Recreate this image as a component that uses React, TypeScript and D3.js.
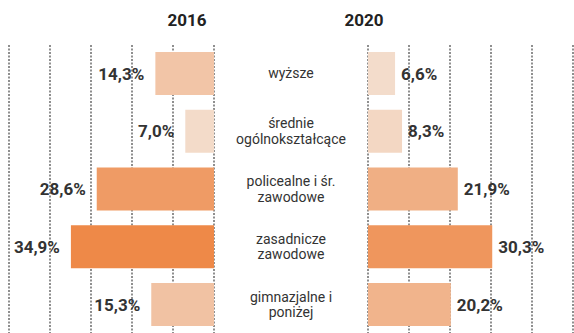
import React from "react";
import * as d3 from "d3";

const categories = [
  ["wyższe"],
  ["średnie", "ogólnokształcące"],
  ["policealne i śr.", "zawodowe"],
  ["zasadnicze", "zawodowe"],
  ["gimnazjalne i", "poniżej"],
];
const years = ["2016", "2020"];
const values2016 = [14.3, 7.0, 28.6, 34.9, 15.3];
const values2020 = [6.6, 8.3, 21.9, 30.3, 20.2];
const gridTicks = [0, 10, 20, 30, 40, 50];

const fmt = (v: number) => v.toFixed(1).replace(".", ",") + "%";

export default function App() {
  const W = 574;
  const H = 333;
  const keys = categories.map((_, i) => String(i));
  const y = d3.scaleBand<string>().domain(keys).range([52, 326]).paddingInner(0.2554).paddingOuter(0);
  const xL = d3.scaleLinear().domain([0, 50]).range([214, 9]);
  const xR = d3.scaleLinear().domain([0, 50]).range([368, 573]);
  const color = d3
    .scaleLinear<string>()
    .domain([6.6, 34.9])
    .range(["#f3dccb", "#ee8948"])
    .interpolate(d3.interpolateRgb);
  const font = "Roboto, 'Noto Sans', sans-serif";
  const bw = y.bandwidth();

  return (
    <svg width={W} height={H} style={{ position: "absolute", left: 0, top: 0, background: "#fff" }}>
      <g>
        {gridTicks.map((t) => (
          <line key={"l" + t} x1={xL(t)} x2={xL(t)} y1={45} y2={H} stroke="#8f8f8f" strokeWidth={2} strokeDasharray="2,1.5" />
        ))}
        {gridTicks.map((t) => (
          <line key={"r" + t} x1={xR(t)} x2={xR(t)} y1={45} y2={H} stroke="#8f8f8f" strokeWidth={2} strokeDasharray="2,1.5" />
        ))}
      </g>
      <text x={187} y={26} textAnchor="middle" fontFamily={font} fontWeight={700} fontSize={17} fill="#222">
        {years[0]}
      </text>
      <text x={364} y={26} textAnchor="middle" fontFamily={font} fontWeight={700} fontSize={17} fill="#222">
        {years[1]}
      </text>
      {values2016.map((v, i) => {
        const yy = y(keys[i])!;
        return (
          <g key={"a" + i}>
            <rect x={xL(v)} y={yy} width={xL(0) - xL(v)} height={bw} fill={color(v)} />
            <text x={xL(v) - 11} y={yy + bw / 2} dy="0.36em" textAnchor="end" fontFamily={font} fontWeight={700} fontSize={17} fill="#333">
              {fmt(v)}
            </text>
          </g>
        );
      })}
      {values2020.map((v, i) => {
        const yy = y(keys[i])!;
        return (
          <g key={"b" + i}>
            <rect x={xR(0)} y={yy} width={xR(v) - xR(0)} height={bw} fill={color(v)} />
            <text x={xR(v) + 6} y={yy + bw / 2} dy="0.36em" textAnchor="start" fontFamily={font} fontWeight={700} fontSize={17} fill="#333">
              {fmt(v)}
            </text>
          </g>
        );
      })}
      {categories.map((lines, i) => {
        const cy = y(keys[i])! + bw / 2;
        const lh = 15.5;
        const start = cy - ((lines.length - 1) * lh) / 2;
        return (
          <text key={"c" + i} textAnchor="middle" fontFamily={font} fontSize={14} fill="#333">
            {lines.map((ln, j) => (
              <tspan key={j} x={291} y={start + j * lh} dy="0.35em">
                {ln}
              </tspan>
            ))}
          </text>
        );
      })}
    </svg>
  );
}
